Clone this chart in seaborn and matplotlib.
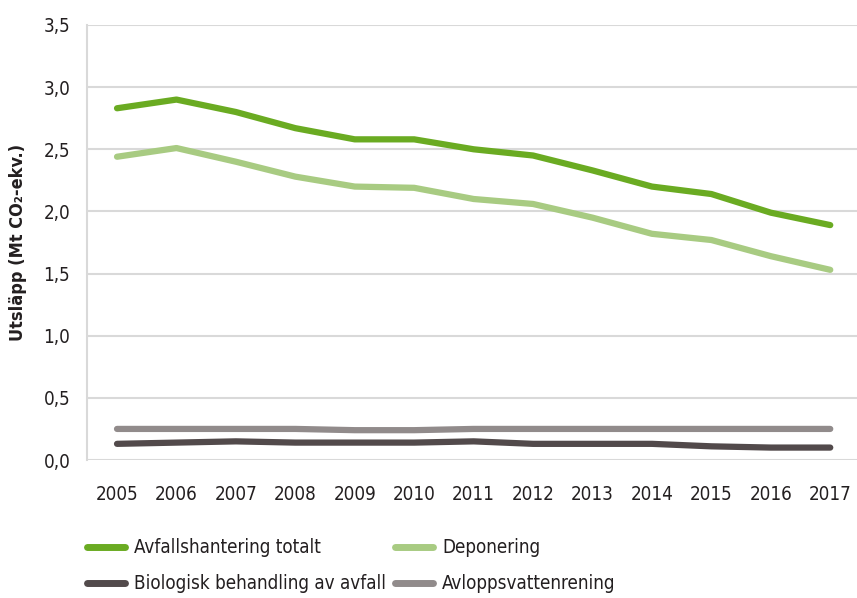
import matplotlib.pyplot as plt
import numpy as np
import pandas as pd
import seaborn as sns

years = list(range(2005, 2018))
totalt = [2.83, 2.90, 2.80, 2.67, 2.58, 2.58, 2.50, 2.45, 2.33, 2.20, 2.14, 1.99, 1.89]
deponering = [2.44, 2.51, 2.40, 2.28, 2.20, 2.19, 2.10, 2.06, 1.95, 1.82, 1.77, 1.64, 1.53]
biologisk = [0.13, 0.14, 0.15, 0.14, 0.14, 0.14, 0.15, 0.13, 0.13, 0.13, 0.11, 0.10, 0.10]
avlopp = [0.25, 0.25, 0.25, 0.25, 0.24, 0.24, 0.25, 0.25, 0.25, 0.25, 0.25, 0.25, 0.25]

series = ["Avfallshantering totalt", "Deponering",
          "Biologisk behandling av avfall", "Avloppsvattenrening"]
colors = ["#6aab22", "#a8cb82", "#524a4b", "#918b8b"]

df = pd.DataFrame({
    "year": years * 4,
    "value": totalt + deponering + biologisk + avlopp,
    "serie": sum([[s] * len(years) for s in series], []),
})

sns.set_theme(style="white")
plt.rcParams["font.family"] = ["DejaVu Sans"]
plt.rcParams["font.stretch"] = "condensed"

fig = plt.figure(figsize=(8.57, 5.98), dpi=100)
ax = fig.add_axes([87 / 857, 1 - 460 / 598, 1 - 87 / 857, (460 - 25) / 598])

sns.lineplot(data=df, x="year", y="value", hue="serie", hue_order=series,
             palette=colors, linewidth=4.5, ax=ax, legend=False,
             solid_capstyle="round")

ax.set_ylim(0, 3.5)
ax.set_xlim(2004.495, 2017.45)
yt = np.arange(0, 3.51, 0.5)
ax.set_yticks(yt)
ax.set_yticklabels([f"{v:.1f}".replace(".", ",") for v in yt])
ax.set_xticks(years)
ax.set_xticklabels([str(y) for y in years])
ax.grid(axis="y", color="#d9d9d9", linewidth=1.5)
for side in ["top", "right", "bottom"]:
    ax.spines[side].set_visible(False)
ax.spines["left"].set_color("#d9d9d9")
ax.spines["left"].set_linewidth(1.5)
ax.tick_params(axis="both", labelsize=13.5, colors="#231f20", length=0)
ax.tick_params(axis="x", pad=18)
ax.tick_params(axis="y", pad=12)
ax.set_xlabel("")
ax.set_ylabel("Utsläpp (Mt CO₂-ekv.)", fontsize=13, fontweight="bold",
              color="#231f20", labelpad=12)

handles = [plt.Line2D([0], [0], color=c, linewidth=5, solid_capstyle="round")
           for c in colors]
# matplotlib fills legend columns first, so reorder to get rows as in the reference
order = [0, 2, 1, 3]
fig.legend([handles[i] for i in order], [series[i] for i in order],
           loc="lower left", bbox_to_anchor=(0.082, -0.02),
           ncol=2, frameon=False, fontsize=13.5, handlelength=2.0,
           columnspacing=0.5, labelspacing=0.9, handletextpad=0.5,
           labelcolor="#231f20")

fig.savefig("out.png", dpi=100)
